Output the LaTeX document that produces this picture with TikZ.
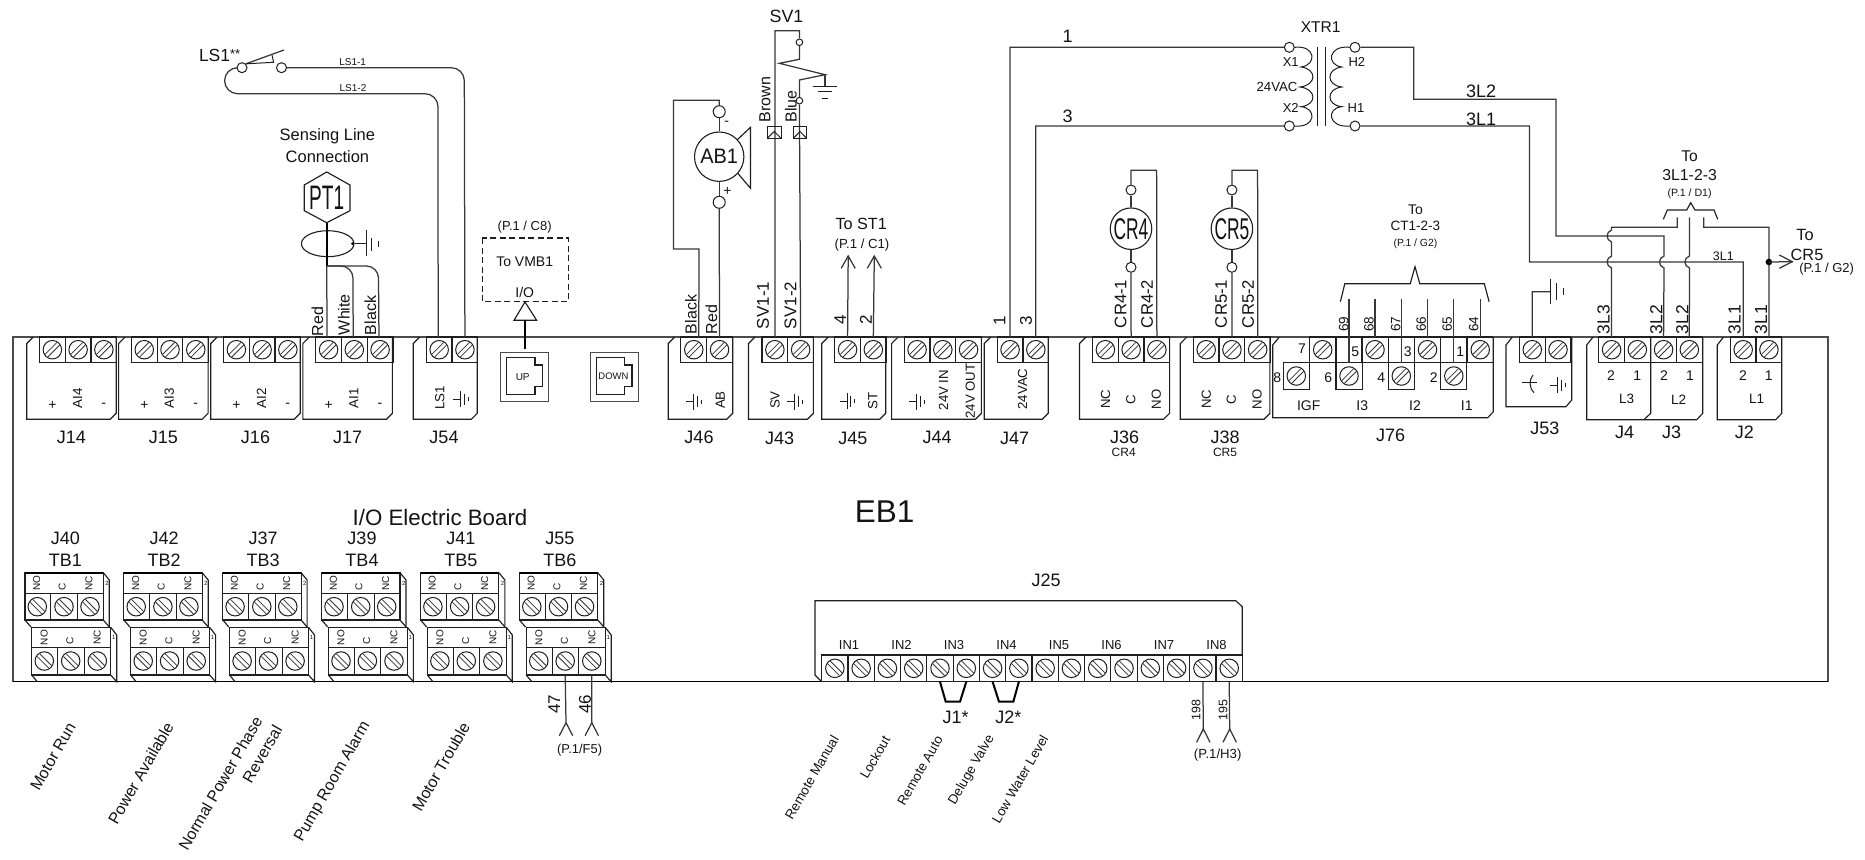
\documentclass[tikz,border=0pt]{standalone}
\usepackage{fontspec}
\usepackage{graphicx}
\usetikzlibrary{shapes.geometric}
\setmainfont{Liberation Sans}
\newcommand{\fs}[1]{\fontsize{#1}{#1}\selectfont}
\newcounter{lbl}
\tikzset{
  wire/.style={draw=black!78,line width=1.25pt,line join=miter},
  box/.style={draw=black!88,line width=1.15pt},
  thin/.style={draw=black!88,line width=1pt},
  hatch/.style={draw=black!80,line width=.75pt},
  thickw/.style={draw=black,line width=2.4pt},
  txt/.style={inner sep=0pt,outer sep=0pt,text=black!92},
  ring/.style={circle,draw=black!88,fill=white,line width=1pt,inner sep=0pt},
}
\newcommand{\lab}[5][]{\stepcounter{lbl}\node[txt,#1] (L\arabic{lbl}) at (#2,#3) {\fs{#4}#5};}
% screw: name, x, y, direction (1 = /, -1 = \)
\newcommand{\screwat}[4]{%
  \node[ring,minimum size=18.5pt] (#1) at (#2,#3) {};
  \draw[hatch] (#2-7.2*#4,#3+4.5) -- (#2+4.5*#4,#3-7.2);
  \draw[hatch] (#2-4.5*#4,#3+7.2) -- (#2+7.2*#4,#3-4.5);
}
% terminal strip on the top edge: name, left x, number of cells
\newcommand{\tstrip}[3]{%
  \foreach \i in {1,...,#3}{%
    \pgfmathsetmacro\xa{#2+(\i-1)*25.75}%
    \pgfmathsetmacro\xc{\xa+12.87}%
    \draw[box] (\xa,337) rectangle ++(25.75,25.4);
    \screwat{#1-\i}{\xc}{349.7}{1}
    \coordinate (T-#1-\i) at (\xc,337);
  }%
}
\newcommand{\chassis}[3]{%
  \draw[box] (#1+6.5,337) -- (#1,343.5) -- (#1,#3) -- (#2-6,#3) -- (#2,#3-6) -- (#2,337);
}
\newcommand{\gnd}[2]{%
  \draw[thin] (#1-7.5,#2) -- (#1,#2);
  \draw[thin] (#1,#2-8) -- (#1,#2+8);
  \draw[thin] (#1+3.8,#2-5.5) -- (#1+3.8,#2+5.5);
  \draw[thin] (#1+7.5,#2-2) -- (#1+7.5,#2+2);
}
\newcommand{\opena}[4]{\draw[wire] (#1-#3,#2+#4) -- (#1,#2) -- (#1+#3,#2+#4);}
\begin{document}
\begin{tikzpicture}[x=1pt,y=-1pt]
\useasboundingbox (0,0) rectangle (1865,859);
\fill[white] (0,0) rectangle (1865,859);
% board
\draw[draw=black!70,line width=1.2pt] (13,681.7) -- (13,337) -- (1828,337) -- (1828,681.7);
\draw[draw=black,line width=1.2pt] (13,681.7) -- (1828,681.7);
\lab{884.7}{511.4}{31.5}{EB1}
\lab{440}{517.3}{22.3}{I/O Electric Board}

% ---- J14..J17
\foreach \n/\xl/\ai/\jl in {J14/26.7/AI4/J14,J15/118.6/AI3/J15,J16/210.7/AI2/J16,J17/302.9/AI1/J17}{
  \pgfmathsetmacro\xr{\xl+89.5}
  \pgfmathsetmacro\xb{\xl+12.8}
  \chassis{\xl}{\xr}{419.3}
  \tstrip{\n}{\xb}{3}
  \lab{\xl+25.8}{405}{14}{+}
  \lab[rotate=90]{\xl+50.8}{398.5}{13.3}{\ai}
  \lab{\xl+77}{405}{14}{-}
  \lab{\xl+44.8}{437}{18}{\jl}
}
% ---- J54
\chassis{413.2}{477.3}{419.3}
\tstrip{J54}{426.3}{2}
\lab[rotate=90]{439.7}{397.7}{13.3}{LS1}
\gnd{460.6}{399}
\lab{444}{437.7}{18}{J54}

% LS1 switch
\lab[anchor=west]{199}{55}{17.5}{LS1\raisebox{3pt}{\fs{13}**}}
\node[ring,minimum size=10pt] (LSa) at (242,67.7) {};
\node[ring,minimum size=10pt] (LSb) at (281.5,67.7) {};
\coordinate (LSblade) at (284,50);
\draw[wire] (LSa.north east) -- (LSblade);
\draw[thin] (LSa.north east) -- (273.6,62.3) -- (272,55);
\draw[wire,rounded corners=13pt] (LSb.east) -- (464.3,67.7) -- (T-J54-2);
\draw[wire,rounded corners=13pt] (LSa.west) -- (224.6,67.7) -- (224.6,93.7) -- (438,93.7) -- ([xshift=-1pt]T-J54-1);
\lab{352.7}{61.7}{10}{LS1-1}
\lab{353}{88.3}{10}{LS1-2}

% PT1
\lab{327.4}{136.7}{16.5}{Sensing Line}
\lab{327.4}{156.7}{16.5}{Connection}
\coordinate (PTb) at (326.7,222.7);
\draw[box] (326.7,172) -- (350,185) -- (350,210.7) -- (PTb) -- (304.3,210.7) -- (304.3,185) -- cycle;
\node[txt] (PT) at (326.7,197.5) {\scalebox{.56}[1]{\fs{34}PT1}};
\node[ellipse,draw=black!88,line width=1.1pt,minimum width=52.6pt,minimum height=26pt,inner sep=0pt] (Oval) at (327.7,243.7) {};
\coordinate (PTj) at (326.7,266);
\draw[thickw] (PTb) -- (PTj);
\draw[wire] (PTj) -- ([xshift=-1.5pt]T-J17-1);
\draw[wire,rounded corners=12pt] (PTj) -- (352.9,266) -- ([xshift=-1.1pt]T-J17-2);
\draw[wire,rounded corners=12pt] (PTj) -- (378.4,266) -- ([xshift=-1.1pt]T-J17-3);
\fill[black] ([xshift=-2pt]Oval.east) circle[radius=1.6pt];
\draw[thin] (Oval.east) -- (366,243.7);
\draw[thin] (366,230) -- (366,256);
\draw[thin] (371.7,238) -- (371.7,251);
\draw[thin] (378.3,240.5) -- (378.3,247);
\lab[rotate=90,anchor=west]{317.5}{336}{16}{Red}
\lab[rotate=90,anchor=west]{344}{335}{16}{White}
\lab[rotate=90,anchor=west]{370.5}{335}{16}{Black}

% UP / DOWN jacks
\node[draw=black!70,line width=1.1pt,minimum width=48.2pt,minimum height=48.7pt,inner sep=0pt] (UP) at (524.7,376.7) {};
\draw[box] (506.5,357.3) -- (535,357.3) -- (535,365) -- (542.5,365) -- (542.5,386.7) -- (535,386.7) -- (535,394.3) -- (506.5,394.3) -- cycle;
\lab{522.7}{377}{10}{UP}
\node[draw=black!70,line width=1.1pt,minimum width=47.9pt,minimum height=48.7pt,inner sep=0pt] (DOWN) at (614.2,376.7) {};
\draw[box] (596.5,357.3) -- (624.5,357.3) -- (624.5,365) -- (632,365) -- (632,386.7) -- (624.5,386.7) -- (624.5,394.3) -- (596.5,394.3) -- cycle;
\lab{613.5}{376.5}{9.5}{DOWN}
% VMB1
\draw[box,dash pattern=on 6pt off 3.5pt] (482.4,238) rectangle (568.2,301.7);
\lab{524.7}{226.7}{13}{(P.1 / C8)}
\lab{524.7}{261.7}{14}{To VMB1}
\lab{524.7}{292.3}{14}{I/O}
\coordinate (VMBa) at (525,302);
\coordinate (VMBb) at (525,320.3);
\draw[box] (VMBa) -- (536.6,320.3) -- (514,320.3) -- cycle;
\draw[thickw,line width=1.9pt] (VMBb) -- ([yshift=3pt]UP.north -| VMBb);

% ---- J46
\chassis{668.2}{732.7}{419.3}
\tstrip{J46}{680.9}{2}
\gnd{693.5}{401.7}
\lab[rotate=90]{720.4}{400}{13.3}{AB}
\lab{699}{437.5}{18}{J46}
\node[ring,minimum size=12pt] (ABt) at (719.2,111.7) {};
\node[ring,minimum size=12pt] (ABb) at (719.2,202.3) {};
\node[circle,draw=black!88,line width=1.1pt,minimum size=49.4pt,inner sep=0pt] (AB1) at (719.2,156.7) {};
\node[txt] (ABt1) at (719.2,156.7) {\scalebox{.95}[1]{\fs{21}AB1}};
\draw[wire] ([xshift=5pt]T-J46-1) -- (699,249) -- (673.4,249) -- (673.4,100.3) -- (719.2,100.3) -- (ABt.north);
\draw[wire] (ABt.south) -- (AB1.north);
\draw[wire] (AB1.south) -- (ABb.north);
\draw[wire] (ABb.south) -- (T-J46-2);
\draw[box] (737,140) -- (750.5,127.3) -- (750.5,188.3) -- (737.8,173.3);
\lab{726.8}{123}{14}{-}
\lab{727.5}{191.7}{14}{+}
\lab[rotate=90,anchor=west]{691}{334}{16}{Black}
\lab[rotate=90,anchor=west]{711.3}{334}{16}{Red}

% ---- J43
\chassis{748.5}{813.4}{419.3}
\tstrip{J43}{762}{2}
\lab[rotate=90]{775}{400}{13.3}{SV}
\gnd{794.8}{401.7}
\lab{779.7}{438}{18}{J43}
\lab{786.5}{16.7}{17.8}{SV1}
\node[ring,minimum size=6.6pt] (SVt) at (799.4,42.3) {};
\node[ring,minimum size=6.6pt] (SVb) at (799.4,100.7) {};
\draw[wire] (T-J43-1) -- (774.9,30.7) -- (799.4,30.7) -- (SVt.north);
\draw[wire] (SVt.south) -- (799.4,59.3) -- (779.3,63.3) -- (825,74.7) -- (799.4,80) -- (SVb.north);
\draw[wire] (SVb.south) -- (T-J43-2);
\draw[wire] (825,74.7) -- (825,86);
\draw[thin] (812.7,86) -- (837.3,86);
\draw[thin] (818.3,91.7) -- (831.7,91.7);
\draw[thin] (822,98.3) -- (827.7,98.3);
\draw[thin] (767.3,126) rectangle (781,138.3);
\draw[thin] (767.3,138.3) -- (774.2,131.5) -- (781,138.3);
\draw[thin] (793.3,126) rectangle (806.7,138.3);
\draw[thin] (793.3,138.3) -- (800,131.5) -- (806.7,138.3);
\lab[rotate=90,anchor=west]{765}{122.3}{16}{Brown}
\lab[rotate=90,anchor=west]{790.8}{122.3}{16}{Blue}
\lab[rotate=90,anchor=west]{763}{329}{17}{SV1-1}
\lab[rotate=90,anchor=west]{790.4}{329}{17}{SV1-2}

% ---- J45
\chassis{821.7}{885.7}{419.3}
\tstrip{J45}{834.7}{2}
\gnd{847}{401}
\lab[rotate=90]{872.7}{401}{13.3}{ST}
\lab{852.9}{438}{18}{J45}
\coordinate (ST1a) at (848.2,256);
\coordinate (ST1b) at (874.3,256);
\draw[wire] (T-J45-1) -- (ST1a);
\draw[wire] (T-J45-2) -- (ST1b);
\opena{848.2}{256}{7}{12.3}
\opena{874.3}{256}{7}{12.3}
\lab{861.2}{224.3}{16.2}{To ST1}
\lab{862}{245}{13.2}{(P.1 / C1)}
\lab[rotate=90]{840.2}{319.3}{17}{4}
\lab[rotate=90]{866}{319.3}{17}{2}

% ---- J44
\chassis{891.6}{981.4}{419.3}
\tstrip{J44}{904.2}{3}
\gnd{916.6}{401.7}
\lab[rotate=90]{943.4}{390}{13.2}{24V IN}
\lab[rotate=90]{970.3}{391}{13.2}{24V OUT}
\lab{937}{437}{18}{J44}

% ---- J47
\chassis{984.2}{1048.2}{419.3}
\tstrip{J47}{997.2}{2}
\lab[rotate=90]{1022.5}{389}{13.2}{24VAC}
\lab{1014.6}{438}{18}{J47}
\lab[rotate=90]{999.6}{320.7}{17}{1}
\lab[rotate=90]{1026}{320.7}{17}{3}
\lab{1067.6}{36.7}{18}{1}
\lab{1067.6}{116}{18}{3}

% ---- XTR1
\lab{1320.7}{26.7}{15.6}{XTR1}
\node[ring,minimum size=10pt] (X1) at (1289.3,47.3) {};
\node[ring,minimum size=10pt] (X2) at (1289.3,126) {};
\node[ring,minimum size=10pt] (H2) at (1355,47.3) {};
\node[ring,minimum size=10pt] (H1) at (1355,126) {};
\draw[wire] (T-J47-1) -- (1010.1,47.3) -- (X1.west);
\draw[wire] (T-J47-2) -- (1035.8,126) -- (X2.west);
\draw[thin] (X1.east) .. controls (1316,45) and (1317,65) .. (1301,67)
  .. controls (1317,69) and (1317,85) .. (1300,87)
  .. controls (1317,89) and (1317,105) .. (1301,106.7)
  .. controls (1317,108) and (1316,128) .. (X2.east);
\draw[thin] (H2.west) .. controls (1328,45) and (1326,65) .. (1341.7,67)
  .. controls (1326,69) and (1326,85) .. (1341.7,87)
  .. controls (1326,89) and (1326,105) .. (1341.7,106.7)
  .. controls (1326,108) and (1328,128) .. (H1.west);
\draw[thin] (1317.3,47.3) -- (1317.3,126);
\draw[thin] (1325.3,47.3) -- (1325.3,126);
\lab{1290.7}{61.7}{13}{X1}
\lab{1290.7}{107.7}{13}{X2}
\lab{1277}{86.7}{13.2}{24VAC}
\lab{1356.8}{62.3}{13}{H2}
\lab{1356}{108.3}{13}{H1}

% ---- J36
\chassis{1079.5}{1169.6}{419.3}
\tstrip{J36}{1092.5}{3}
\lab[rotate=90]{1105.6}{399.3}{13.2}{NC}
\lab[rotate=90]{1130.9}{399.3}{13.2}{C}
\lab[rotate=90]{1156.2}{399.3}{13.2}{NO}
\lab{1124.5}{437.3}{18}{J36}
\lab{1123.7}{452.5}{12}{CR4}
\node[ring,minimum size=10pt] (CR4t) at (1131,190) {};
\node[ring,minimum size=10pt] (CR4b) at (1131,267.3) {};
\node[circle,draw=black!88,line width=1.1pt,minimum size=41.5pt,inner sep=0pt] (CR4) at (1131,228.7) {};
\node[txt] (CR4x) at (1131,228.7) {\scalebox{.58}[1]{\fs{30}CR4}};
\draw[wire] (T-J36-2) -- (CR4b.south);
\draw[wire] (CR4b.north) -- (CR4.south);
\draw[wire] (CR4.north) -- (CR4t.south);
\draw[wire] (CR4t.north) -- (1131,170.3) -- (1156.6,170.3) -- (T-J36-3);
\lab[rotate=90,anchor=west]{1120.6}{328}{16.7}{CR4-1}
\lab[rotate=90,anchor=west]{1147}{328}{16.7}{CR4-2}

% ---- J38
\chassis{1180.3}{1269.9}{419.3}
\tstrip{J38}{1193.3}{3}
\lab[rotate=90]{1206.4}{399.3}{13.2}{NC}
\lab[rotate=90]{1231.3}{399.3}{13.2}{C}
\lab[rotate=90]{1257}{399.3}{13.2}{NO}
\lab{1225}{437.3}{18}{J38}
\lab{1225}{452.5}{12}{CR5}
\node[ring,minimum size=10pt] (CR5t) at (1231.9,190) {};
\node[ring,minimum size=10pt] (CR5b) at (1231.9,267.3) {};
\node[circle,draw=black!88,line width=1.1pt,minimum size=41.5pt,inner sep=0pt] (CR5) at (1231.9,228.7) {};
\node[txt] (CR5x) at (1231.9,228.7) {\scalebox{.58}[1]{\fs{30}CR5}};
\draw[wire] (T-J38-2) -- (CR5b.south);
\draw[wire] (CR5b.north) -- (CR5.south);
\draw[wire] (CR5.north) -- (CR5t.south);
\draw[wire] (CR5t.north) -- (1231.9,170.3) -- (1257.6,170.3) -- (T-J38-3);
\lab[rotate=90,anchor=west]{1221}{328}{16.7}{CR5-1}
\lab[rotate=90,anchor=west]{1248}{328}{16.7}{CR5-2}

% ---- J76
\draw[box] (1279.3,337) -- (1272.7,345) -- (1272.7,417.7) -- (1487.7,417.7) -- (1493.3,411.7) -- (1493.3,337);
\draw[box] (1309.3,337) -- (1493.3,337);
\draw[box] (1309.3,362.7) -- (1493.3,362.7);
\foreach \x in {1309.3,1336,1362,1388.3,1414.3,1440.7,1467}{\draw[box] (\x,337) -- (\x,362.7);}
\foreach \x in {1283.3,1336,1388.3,1440.7}{\draw[box] (\x,362.7) rectangle ++(26.1,26.6);}
\screwat{S7}{1322.7}{349.7}{1}
\screwat{S5}{1375}{349.7}{1}
\screwat{S3}{1427.5}{349.7}{1}
\screwat{S1}{1480.2}{349.7}{1}
\screwat{S8}{1296.3}{376}{1}
\screwat{S6}{1349}{376}{1}
\screwat{S4}{1401.3}{376}{1}
\screwat{S2}{1453.8}{376}{1}
\lab{1302}{349}{14}{7}
\lab{1355.3}{352}{14}{5}
\lab{1407.7}{352}{14}{3}
\lab{1460.3}{352}{14}{1}
\lab{1277.3}{378}{14}{8}
\lab{1328.3}{378}{14}{6}
\lab{1381.3}{378}{14}{4}
\lab{1433.7}{378}{14}{2}
\lab{1308.7}{405.7}{14}{IGF}
\lab{1362.3}{405.7}{14}{I3}
\lab{1415}{405.7}{14}{I2}
\lab{1466.7}{405.7}{14}{I1}
\lab{1390.7}{435}{18}{J76}
\foreach \sc/\yb/\lb/\xl in {S6/362.7/69/1343.7,S5/337/68/1369,S4/362.7/67/1395.7,S3/337/66/1421.3,S2/362.7/65/1447.3,S1/337/64/1473.7}{
  \coordinate (P\lb) at (\sc |- 0,\yb);
  \draw[wire] (P\lb) -- (\sc |- 0,299.3);
  \lab[rotate=90]{\xl}{324}{13.5}{\lb}
}
\draw[box] (1340.4,301.7) -- (1344.8,283.7) -- (1410.2,283.7) -- (1415,266.7) -- (1419.8,283.7) -- (1484.3,283.7) -- (1489.1,301.7);
\lab{1415.4}{209.3}{14}{To}
\lab{1415.4}{225.7}{13.5}{CT1-2-3}
\lab{1415.4}{244.3}{10.4}{(P.1 / G2)}

% ---- J53
\draw[box] (1512.3,337) -- (1506,345) -- (1506,406.7) -- (1566,406.7) -- (1571.7,400) -- (1571.7,337);
\tstrip{J53}{1519.4}{2}
\draw[thin] (1522,382.7) -- (1537,382.7);
\draw[thin] (1533,375) .. controls (1529,379) and (1529,389) .. (1534,392.7);
\gnd{1557.7}{385}
\lab{1544.9}{428.3}{18}{J53}
\coordinate (GJ53) at (1550,291.7);
\draw[wire] (T-J53-1) -- (1532.3,291.7) -- (GJ53);
\draw[thin] (1550,278.7) -- (1550,304.3);
\draw[thin] (1556.5,283) -- (1556.5,300);
\draw[thin] (1563.2,288.3) -- (1563.2,295);

% ---- J4 J3 J2
\draw[box] (1593,337) -- (1586.7,345) -- (1586.7,419.7) -- (1643.8,419.7) -- (1650.7,413.3) -- (1650.7,337);
\draw[box] (1643.8,419.7) -- (1696.7,419.7) -- (1702.7,413.3) -- (1702.7,337);
\tstrip{J4}{1598.7}{2}
\tstrip{J3}{1650.7}{2}
\draw[box] (1723.5,337) -- (1717.3,345) -- (1717.3,419.7) -- (1775.7,419.7) -- (1781.7,413.3) -- (1781.7,337);
\tstrip{J2}{1730.3}{2}
\lab{1611}{375.7}{14}{2}
\lab{1637.3}{375.7}{14}{1}
\lab{1664}{375.7}{14}{2}
\lab{1690}{375.7}{14}{1}
\lab{1743}{375.7}{14}{2}
\lab{1768.7}{375.7}{14}{1}
\lab{1626.7}{399.3}{13.5}{L3}
\lab{1678.7}{399.3}{13.5}{L2}
\lab{1756.7}{399.3}{13.5}{L1}
\lab{1624.7}{432.7}{18}{J4}
\lab{1671.7}{432.7}{18}{J3}
\lab{1744.3}{432.7}{18}{J2}
% 3L wires
\draw[wire] (H2.east) -- (1413.8,47.3) -- (1413.8,99.3) -- (1556,99.3) -- (1556,236) -- (1664,236) -- (1664,256)
  .. controls (1658,258) and (1658,266) .. (1664,268) -- (T-J3-1);
\draw[wire] (H1.east) -- (1529.4,126) -- (1529.4,262) -- (1743.2,262) -- (T-J2-1);
\draw[wire] (T-J4-1) -- (1611.6,268) .. controls (1605.6,266) and (1605.6,258) .. (1611.6,256) -- (1611.6,242)
  .. controls (1605.6,240) and (1605.6,232) .. (1611.6,230) -- (1611.6,227.3) -- (1677.3,227.3) -- (1677.3,217.3);
\draw[wire] (T-J3-2) -- (1689.4,268) .. controls (1683.4,266) and (1683.4,258) .. (1689.4,256) -- (1689.4,217.3);
\coordinate (Dot) at (1768.9,262);
\draw[wire] (T-J2-2) -- (1768.9,227.3) -- (1703.7,227.3) -- (1703.7,217.3);
\fill[black] (Dot) circle[radius=3.3pt];
\coordinate (CR5a) at (1792.3,261.7);
\draw[wire] (Dot) -- (CR5a);
\draw[wire] (1779.3,255) -- (CR5a) -- (1779.3,268.3);
\draw[box] (1663.3,219.3) -- (1667.3,210) -- (1686.7,210) -- (1690.7,202.7) -- (1695,210) -- (1714,210) -- (1717.7,219.3);
\lab{1689.6}{156}{15.6}{To}
\lab{1689.6}{175}{15.8}{3L1-2-3}
\lab{1689.6}{193.3}{10.6}{(P.1 / D1)}
\lab{1805}{235}{16.3}{To}
\lab{1807}{255}{16.3}{CR5}
\lab{1826.7}{269.3}{13}{(P.1 / G2)}
\lab{1723.3}{256}{12.4}{3L1}
\lab{1481}{91.7}{18}{3L2}
\lab{1481}{119}{18}{3L1}
\lab[rotate=90,anchor=west]{1603.7}{334}{17.5}{3L3}
\lab[rotate=90,anchor=west]{1656.3}{334}{17.5}{3L2}
\lab[rotate=90,anchor=west]{1682.3}{334}{17.5}{3L2}
\lab[rotate=90,anchor=west]{1734.7}{334}{17.5}{3L1}
\lab[rotate=90,anchor=west]{1761}{334}{17.5}{3L1}

% ---- TB blocks
\foreach \k/\jj/\tb in {0/J40/TB1,1/J42/TB2,2/J37/TB3,3/J39/TB4,4/J41/TB5,5/J55/TB6}{
  \pgfmathsetmacro\dx{\k*98.9}
  \begin{scope}[shift={(\dx,0)}]
    \draw[box] (25,572.7) rectangle (103.3,620);
    \draw[box] (25,593.3) -- (103.3,593.3);
    \draw[draw=black,line width=2pt] (25,572.7) -- (103.3,572.7);
    \draw[box] (103.3,572.7) -- (109.3,580) -- (109.3,627);
    \draw[box] (25,620) -- (31,627);
    \draw[box] (103.3,620) -- (109.3,627);
    \draw[box] (31.7,627.3) rectangle (110.7,675);
    \draw[box] (31.7,647.7) -- (110.7,647.7);
    \draw[box] (110.7,627.3) -- (116.7,635) -- (116.7,681.7) -- (110.7,675);
    \draw[box] (31.7,675) -- (37.3,681.7);
    \foreach \xd in {50.7,77.3}{\draw[thin] (\xd,593.3) -- (\xd,620);}
    \foreach \xd in {57.7,84.2}{\draw[thin] (\xd,647.7) -- (\xd,675);}
    \screwat{\tb-u1}{37.3}{606.7}{-1}
    \screwat{\tb-u2}{64}{606.7}{-1}
    \screwat{\tb-u3}{90}{606.7}{-1}
    \screwat{\tb-l1}{44.3}{661}{-1}
    \screwat{\tb-l2}{70.7}{661}{-1}
    \screwat{\tb-l3}{97.3}{661}{-1}
    \lab[rotate=90]{36.7}{583.3}{10}{NO}
    \lab[rotate=90]{62.3}{586.7}{10}{C}
    \lab[rotate=90]{89}{583.3}{10}{NC}
    \lab{107}{583.3}{6}{2}
    \lab[rotate=90]{44.3}{637.7}{10}{NO}
    \lab[rotate=90]{70}{641}{10}{C}
    \lab[rotate=90]{97.3}{637.7}{10}{NC}
    \lab{113.7}{637.3}{6}{1}
    \lab{65.3}{538.3}{18}{\jj}
    \lab{65.3}{560}{18}{\tb}
  \end{scope}
}
\coordinate (W47) at (566,722.7);
\coordinate (W46) at (591.8,722.7);
\draw[wire] (TB6-l2.south |- 0,675) -- (W47);
\draw[wire] (TB6-l3.south |- 0,675) -- (W46);
\opena{566}{722.7}{6.7}{13}
\opena{591.8}{722.7}{6.7}{13}
\lab[rotate=90]{554.3}{704}{17}{47}
\lab[rotate=90]{585}{704}{17}{46}
\lab{579.6}{750}{12.9}{(P.1/F5)}
\lab[rotate=60]{53}{756.7}{16}{Motor Run}
\lab[rotate=60]{140.8}{773.3}{16}{Power Available}
\lab[rotate=60]{220.4}{783.3}{16}{Normal Power Phase}
\lab[rotate=60]{262.2}{754}{16}{Reversal}
\lab[rotate=60]{332.7}{781.7}{16}{Pump Room Alarm}
\lab[rotate=60]{440.8}{766.7}{16}{Motor Trouble}

% ---- J25
\draw[box] (821.7,681.7) -- (815,675) -- (815,600.7) -- (1235.7,600.7) -- (1242.3,606.7) -- (1242.3,655);
\foreach \c in {1,...,16}{
  \pgfmathsetmacro\xa{821.7+(\c-1)*26.29}
  \pgfmathsetmacro\xc{\xa+13.15}
  \draw[box] (\xa,655) rectangle ++(26.29,26.7);
  \screwat{IN-\c}{\xc}{668.3}{-1}
  \coordinate (B-\c) at (\xc,681.7);
}
\foreach \c in {1,...,8}{
  \pgfmathsetmacro\xl{849+(\c-1)*52.5}
  \lab{\xl}{645}{13}{IN\c}
}
\lab{1046}{580}{18}{J25}
\draw[thickw,line width=2pt] (B-5) -- (945.7,701.7) -- (960,701.7) -- (B-6);
\draw[thickw,line width=2pt] (B-7) -- (999,701.7) -- (1013.3,701.7) -- (B-8);
\lab{955.7}{717.7}{18}{J1*}
\lab{1008.3}{717.7}{18}{J2*}
\coordinate (W198) at (1203.3,729);
\coordinate (W195) at (1229.7,729);
\draw[wire] (B-15) -- (W198);
\draw[wire] (B-16) -- (W195);
\opena{1203.3}{729}{6.7}{13.3}
\opena{1229.7}{729}{6.7}{13.3}
\lab[rotate=90]{1196}{710}{12.4}{198}
\lab[rotate=90]{1223}{710}{12.4}{195}
\lab{1217.7}{755}{13.2}{(P.1/H3)}
\lab[rotate=60]{811.7}{777.3}{13.3}{Remote Manual}
\lab[rotate=60]{875}{757.3}{13.3}{Lockout}
\lab[rotate=60]{920}{770.7}{13.3}{Remote Auto}
\lab[rotate=60]{971.7}{770}{13.3}{Deluge Valve}
\lab[rotate=60]{1020}{779}{13.3}{Low Water Level}
\end{tikzpicture}
\end{document}
